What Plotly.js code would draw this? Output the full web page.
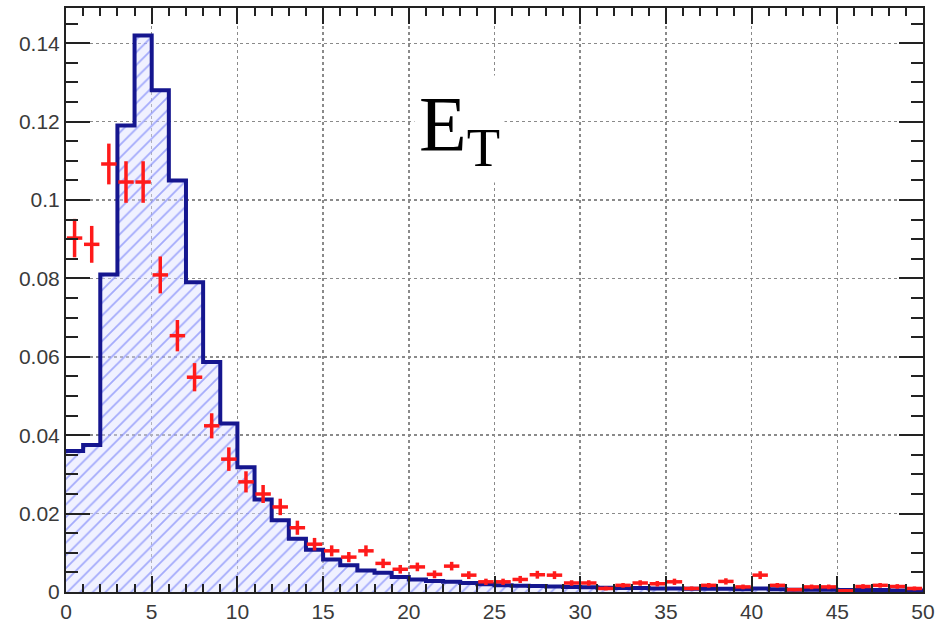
<!DOCTYPE html>
<html>
<head>
<meta charset="utf-8">
<script src="https://cdn.plot.ly/plotly-3.0.1.min.js"></script>
<style>html,body{margin:0;padding:0;background:#fff;}#plot{width:935px;height:625px;}</style>
</head>
<body>
<div id="plot"></div>
<script>
// Bin edges for the histogram (0..50, width 1)
var binLow = 0, binHigh = 50, nBins = 50;

// Simulated distribution (blue stepped histogram), one value per bin
var histValues = [
  0.0360, 0.0375, 0.0810, 0.1190, 0.1420, 0.1280, 0.1050, 0.0790, 0.0587, 0.0430,
  0.0318, 0.0236, 0.0183, 0.0136, 0.0108, 0.0083, 0.0068, 0.0055, 0.0049, 0.0038,
  0.0032, 0.0028, 0.0026, 0.0023, 0.0020, 0.0017, 0.0016, 0.0015, 0.0014, 0.0013,
  0.0012, 0.0011, 0.0010, 0.0010, 0.0009, 0.0009, 0.0008, 0.0008, 0.0008, 0.0007,
  0.0009, 0.0007, 0.0006, 0.0006, 0.0006, 0.0005, 0.0005, 0.0005, 0.0004, 0.0004
];

// Data points (red crosses), one per bin
var dataValues = [
  0.0903, 0.0887, 0.1092, 0.1046, 0.1046, 0.0809, 0.0654, 0.0548, 0.0424, 0.0339,
  0.0281, 0.0250, 0.0217, 0.0164, 0.0122, 0.0105, 0.0089, 0.0105, 0.0073, 0.0058,
  0.0064, 0.0045, 0.0066, 0.0043, 0.0026, 0.0026, 0.0032, 0.0044, 0.0043, 0.0023,
  0.0023, 0.0009, 0.0017, 0.0023, 0.0021, 0.0026, 0.0009, 0.0017, 0.0027, 0.0013,
  0.0043, 0.0017, 0.0006, 0.0013, 0.0013, 0.0003, 0.0014, 0.0017, 0.0014, 0.0009
];
var dataErrors = [
  0.0049, 0.0047, 0.0052, 0.0053, 0.0053, 0.0047, 0.0040, 0.0036, 0.0032, 0.0030,
  0.0027, 0.0023, 0.0021, 0.0018, 0.0016, 0.0014, 0.0013, 0.0014, 0.0012, 0.0011,
  0.0011, 0.0010, 0.0011, 0.0010, 0.0008, 0.0008, 0.0009, 0.0010, 0.0010, 0.0007,
  0.0007, 0.0005, 0.0006, 0.0007, 0.0007, 0.0008, 0.0005, 0.0006, 0.0008, 0.0006,
  0.0010, 0.0006, 0.0004, 0.0006, 0.0006, 0.0003, 0.0006, 0.0006, 0.0006, 0.0005
];

var yTickVals = [0, 0.02, 0.04, 0.06, 0.08, 0.1, 0.12, 0.14];
var yTickText = ['0', '0.02', '0.04', '0.06', '0.08', '0.1', '0.12', '0.14'];
var xTickVals = [0, 5, 10, 15, 20, 25, 30, 35, 40, 45, 50];
var labelText = 'E<sub>T</sub>';

// Build step-edges and bin centres from the binning
var width = (binHigh - binLow) / nBins;
var edges = [], stepY = [], centres = [];
for (var i = 0; i < nBins; i++) {
  edges.push(binLow + i * width);
  stepY.push(histValues[i]);
  centres.push(binLow + (i + 0.5) * width);
}
edges.push(binHigh); stepY.push(histValues[nBins - 1]);

var histTrace = {
  x: edges, y: stepY, type: 'scatter', mode: 'lines',
  line: {shape: 'hv', color: '#15168f', width: 4},
  fill: 'tozeroy',
  fillcolor: 'rgba(0,0,0,0)',
  fillpattern: {shape: '/', fgcolor: 'rgba(130,140,250,0.7)', bgcolor: 'rgba(222,225,255,0.45)', size: 9, solidity: 0.2},
  hoverinfo: 'skip', showlegend: false
};

var dataTrace = {
  x: centres, y: dataValues, type: 'scatter', mode: 'markers',
  marker: {size: 1, color: '#ff1a1a', opacity: 0},
  error_y: {type: 'data', array: dataErrors, visible: true, color: '#ff1a1a', thickness: 3.5, width: 0},
  error_x: {type: 'constant', value: 0.45, visible: true, color: '#ff1a1a', thickness: 3.5, width: 0},
  showlegend: false
};

var tickFont = {family: 'Liberation Sans, Arial, sans-serif', size: 21, color: '#3a3a3a'};

var layout = {
  width: 935, height: 625,
  margin: {l: 66, r: 12, t: 8, b: 33},
  paper_bgcolor: '#ffffff', plot_bgcolor: '#ffffff',
  showlegend: false,
  xaxis: {
    range: [binLow, binHigh], tickvals: xTickVals, ticks: 'inside', ticklen: 16, tickwidth: 2, tickcolor: '#222',
    minor: {dtick: 1, ticks: 'inside', ticklen: 8, tickwidth: 2, tickcolor: '#222', showgrid: false},
    showline: true, linecolor: '#222', linewidth: 2, mirror: 'allticks',
    showgrid: true, gridcolor: '#8a8a8a', gridwidth: 1.5, griddash: 'dot',
    zeroline: false, tickfont: tickFont
  },
  yaxis: {
    range: [0, 0.149], tickvals: yTickVals, ticktext: yTickText, ticks: 'inside', ticklen: 24, tickwidth: 2, tickcolor: '#222',
    minor: {dtick: 0.005, tick0: 0, ticks: 'inside', ticklen: 12, tickwidth: 2, tickcolor: '#222', showgrid: false},
    showline: true, linecolor: '#222', linewidth: 2, mirror: 'allticks',
    showgrid: true, gridcolor: '#8a8a8a', gridwidth: 1.5, griddash: 'dot',
    zeroline: false, tickfont: tickFont
  },
  annotations: [{
    text: labelText, xref: 'paper', yref: 'paper', x: 0.4586, y: 0.792,
    xanchor: 'center', yanchor: 'middle', showarrow: false,
    font: {family: 'Liberation Serif, Times New Roman, serif', size: 78, color: '#000'},
    bgcolor: '#ffffff', borderpad: 4
  }]
};

Plotly.newPlot('plot', [histTrace, dataTrace], layout, {staticPlot: true, displayModeBar: false});
</script>
</body>
</html>
